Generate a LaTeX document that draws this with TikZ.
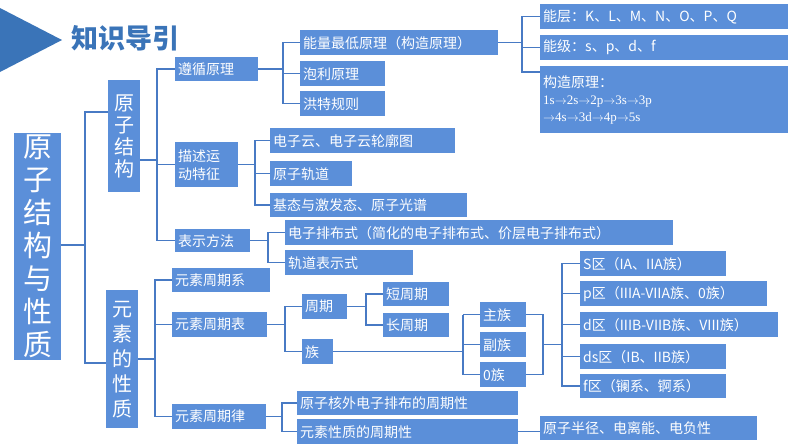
\documentclass[tikz,border=0pt]{standalone}
\usepackage{fontspec}
\setmainfont{Noto Sans CJK SC}
\newfontfamily\serifnum{Liberation Serif}
\definecolor{boxblue}{RGB}{91,143,217}
\definecolor{lineblue}{RGB}{72,122,196}
\definecolor{titleblue}{RGB}{58,116,184}
\tikzset{
  box/.style={fill=boxblue, text=white, inner sep=3pt, anchor=north west,
    font=\fontsize{14}{16}\selectfont, align=left},
  vbox/.style={fill=boxblue, text=white, inner sep=2pt, anchor=north west,
    align=center},
  link/.style={draw=lineblue, line width=1.5pt}
}
% box with top-left corner, width and height in px
\newcommand{\bx}[6]{\node[box, text width={#4pt-6pt}, minimum height=#5pt] (#1) at (#2,#3) {#6};}
\begin{document}
\begin{tikzpicture}[x=1pt, y=-1pt]
  \useasboundingbox (0,0) rectangle (794,447);
  % title
  \fill[titleblue] (0,8) -- (62,40) -- (0,72) -- cycle;
  \node[anchor=west, text=titleblue, font=\fontsize{27}{30}\selectfont\bfseries] (title) at (68,38) {知识导引};
  % main boxes
  \node[vbox, minimum width=47pt, minimum height=224pt, font=\fontsize{29}{33}\selectfont] (root) at (14,133) {原\\子\\结\\构\\与\\性\\质};
  \node[vbox, minimum width=32pt, minimum height=112pt, font=\fontsize{20}{22}\selectfont] (yz) at (108,80) {原\\子\\结\\构};
  \node[vbox, minimum width=32pt, minimum height=138pt, font=\fontsize{20}{25}\selectfont] (ys) at (106,290) {元\\素\\的\\性\\质};
  % level 2
  \bx{zx}{175}{57}{83}{24}{遵循原理}
  \node[box, text width=57pt, minimum height=45pt, font=\fontsize{14}{18}\selectfont] (ms) at (175,142) {描述运\\动特征};
  \bx{bs}{175}{229}{75}{23}{表示方法}
  \bx{zq}{172}{268}{98}{24}{元素周期系}
  \bx{zb}{172}{312}{95}{25}{元素周期表}
  \bx{zl}{172}{404}{94}{25}{元素周期律}
  % level 3
  \bx{nl}{300}{30}{198}{25}{能量最低原理（构造原理）}
  \bx{pl}{300}{61}{85}{25}{泡利原理}
  \bx{ht}{300}{91}{85}{25}{洪特规则}
  \bx{dy}{270}{128}{185}{25}{电子云、电子云轮廓图}
  \bx{gd}{270}{161}{82}{25}{原子轨道}
  \bx{jt}{270}{193}{197}{24}{基态与激发态、原子光谱}
  \bx{pb}{285}{220}{388}{25}{电子排布式（简化的电子排布式、价层电子排布式）}
  \bx{gb}{285}{250}{128}{25}{轨道表示式}
  \bx{zqi}{302}{294}{45}{25}{周期}
  \bx{zu}{302}{339}{31}{25}{族}
  \bx{hw}{297}{391}{221}{24}{原子核外电子排布的周期性}
  \bx{xz}{297}{419}{221}{25}{元素性质的周期性}
  % level 4
  \bx{nc}{540}{4}{248}{25}{能层：K、L、M、N、O、P、Q}
  \bx{nj}{540}{35}{248}{25}{能级：s、p、d、f}
  \node[box, text width=242pt, minimum height=67pt, font=\fontsize{14}{17}\selectfont] (gz) at (540,66)
    {构造原理：\\{\serifnum\fontsize{13}{15}\selectfont 1s$\to$2s$\to$2p$\to$3s$\to$3p}\\{\serifnum\fontsize{13}{15}\selectfont $\to$4s$\to$3d$\to$4p$\to$5s}};
  \bx{dz}{383}{282}{66}{24}{短周期}
  \bx{cz}{383}{313}{66}{24}{长周期}
  \bx{mz}{480}{302}{46}{25}{主族}
  \bx{fz}{480}{332}{46}{25}{副族}
  \bx{lz}{480}{362}{46}{25}{0族}
  \bx{bj}{540}{416}{217}{24}{原子半径、电离能、电负性}
  \bx{sq}{580}{251}{146}{25}{S区（IA、IIA族）}
  \bx{pq}{580}{281}{187}{25}{p区（IIIA-VIIA族、0族）}
  \bx{dq}{580}{312}{198}{25}{d区（IIIB-VIIB族、VIII族）}
  \bx{dsq}{580}{344}{146}{25}{ds区（IB、IIB族）}
  \bx{fq}{580}{374}{146}{24}{f区（镧系、锕系）}
  % branch points
  \coordinate (s0) at (85,245);
  \coordinate (yzin) at (108,112);
  \coordinate (ysin) at (106,363);
  \coordinate (yzout) at (140,160);
  \coordinate (s1) at (157,0);
  \coordinate (s2) at (155,0);
  \coordinate (s3) at (283,0);
  \coordinate (s4) at (522,0);
  \coordinate (s5) at (255,0);
  \coordinate (s6) at (268,0);
  \coordinate (s7) at (285,0);
  \coordinate (s8) at (366,0);
  \coordinate (s9) at (463,0);
  \coordinate (s10) at (543,0);
  \coordinate (s11) at (562,0);
  \coordinate (s12) at (282,0);
  \coordinate (gzin) at (540,72);
  % connectors
  \draw[link] (root.east |- s0) -- (s0) |- (yzin);
  \draw[link] (s0) |- (ysin);
  \foreach \c in {zx, ms, bs}
    \draw[link] (yzout) -- (yzout -| s1) |- (\c.west);
  \foreach \c in {zq, zb, zl}
    \draw[link] (ys.east) -- (ys.east -| s2) |- (\c.west);
  \foreach \c in {nl, pl, ht}
    \draw[link] (zx.east) -- (zx.east -| s3) |- (\c.west);
  \foreach \c in {nc, nj}
    \draw[link] (nl.east) -- (nl.east -| s4) |- (\c.west);
  \draw[link] (nl.east -| s4) |- (gzin);
  \foreach \c in {dy, gd, jt}
    \draw[link] (ms.east) -- (ms.east -| s5) |- (\c.west);
  \foreach \c in {pb, gb}
    \draw[link] (bs.east) -- (bs.east -| s6) |- (\c.west);
  \foreach \c in {zqi, zu}
    \draw[link] (zb.east) -- (zb.east -| s7) |- (\c.west);
  \foreach \c in {dz, cz}
    \draw[link] (zqi.east) -- (zqi.east -| s8) |- (\c.west);
  \draw[link] (zu.east) -- (zu.east -| s9);
  \foreach \c in {mz, fz, lz}
    \draw[link] (s9 |- mz.west) |- (\c.west);
  \draw[link] (mz.east) -| (s10 |- lz.east) -- (lz.east);
  \draw[link] (s10 |- fz.east) -- (s11 |- fz.east);
  \foreach \c in {sq, pq, dq, dsq, fq}
    \draw[link] (s11 |- fz.east) |- (\c.west);
  \foreach \c in {hw, xz}
    \draw[link] (zl.east) -- (zl.east -| s12) |- (\c.west);
  \draw[link] (xz.east) -- (bj.west |- xz.east);
\end{tikzpicture}
\end{document}
